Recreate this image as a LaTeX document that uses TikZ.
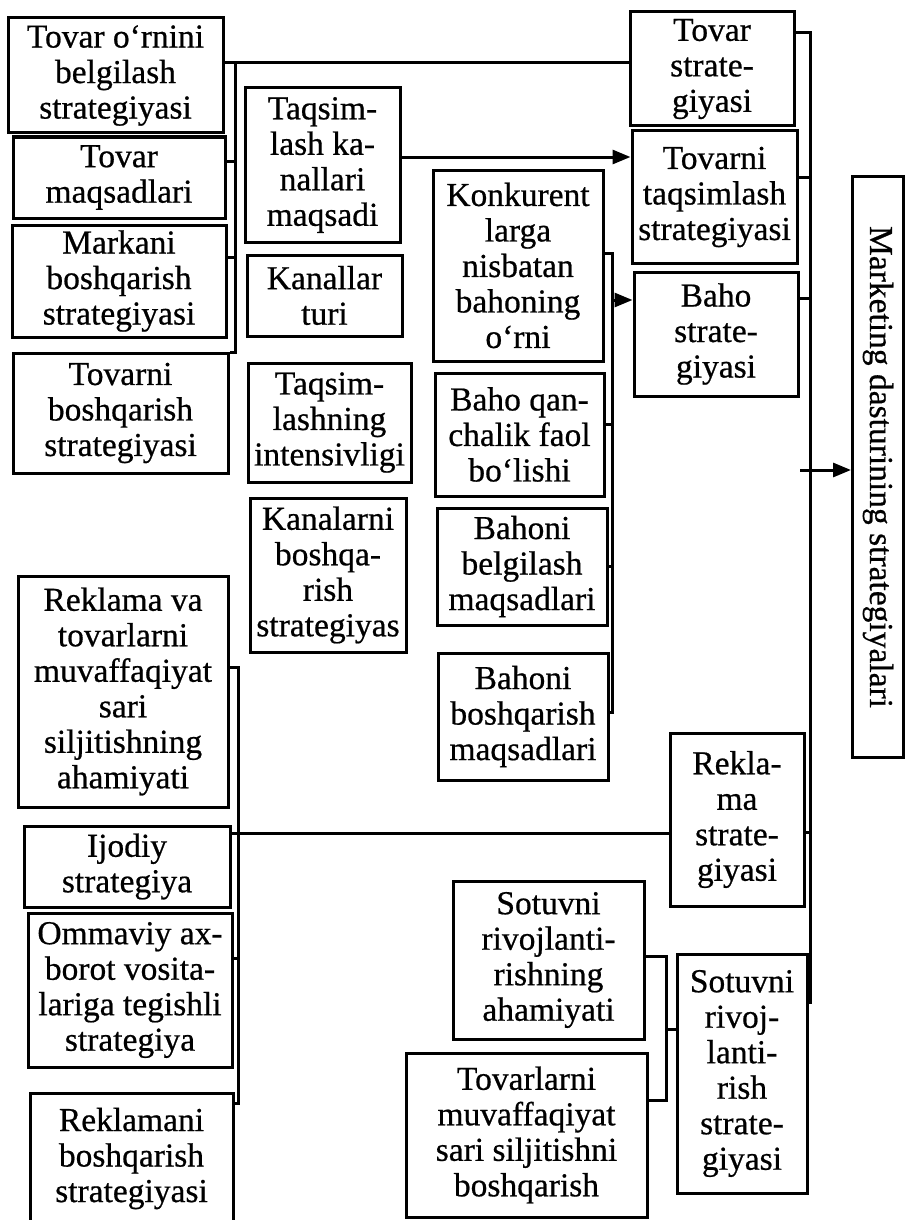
\documentclass[tikz,border=0pt]{standalone}
\usepackage{fontspec}
\setmainfont{Liberation Serif}[FakeBold=0.6]
\usetikzlibrary{arrows.meta}

% rectangle node given by its left, top, right and bottom edges
\newcommand\boxat[6]{%
  \node[box, minimum width={(#4-#2)*1pt}, minimum height={(#5-#3)*1pt}]
    (#1) at ({(#2+#4)/2},{(#3+#5)/2}) {#6};}

\begin{document}
\begin{tikzpicture}[x=1pt, y=-1pt,
  box/.style={draw, line width=3pt, inner sep=0pt, align=center,
              font=\fontsize{33.5}{35.5}\selectfont},
  conn/.style={line width=3pt},
  arr/.style={conn, -{Triangle[length=18pt, width=14pt]}}]
\useasboundingbox (0,0) rectangle (910,1220);
\clip (0,0) rectangle (910,1220);

% product group
\boxat{b1}{8}{18}{223}{133}{Tovar o‘rnini\\belgilash\\strategiyasi}
\boxat{b2}{13}{137}{225}{218}{Tovar\\maqsadlari}
\boxat{b3}{12}{225}{226}{337}{Markani\\boshqarish\\strategiyasi}
\boxat{b4}{13}{353}{228}{473}{Tovarni\\boshqarish\\strategiyasi}

% distribution group
\boxat{c1}{245}{88}{400}{242}{Taqsim-\\lash ka-\\nallari\\maqsadi}
\boxat{c2}{247}{255}{402}{336}{Kanallar\\turi}
\boxat{c3}{248}{363}{411}{482}{Taqsim-\\lashning\\intensivligi}
\boxat{c4}{250}{498}{406}{652}{Kanalarni\\boshqa-\\rish\\strategiyas}

% price group
\boxat{d1}{433}{170}{603}{361}{Konkurent\\larga\\nisbatan\\bahoning\\o‘rni}
\boxat{d2}{435}{373}{604}{496}{Baho qan-\\chalik faol\\bo‘lishi}
\boxat{d3}{437}{508}{607}{625}{Bahoni\\belgilash\\maqsadlari}
\boxat{d4}{438}{653}{608}{780}{Bahoni\\boshqarish\\maqsadlari}

% strategies column
\boxat{r1}{630}{12}{794}{126}{Tovar\\strate-\\giyasi}
\boxat{r2}{632}{131}{797}{263}{Tovarni\\taqsimlash\\strategiyasi}
\boxat{r3}{634}{272}{798}{396}{Baho\\strate-\\giyasi}
\boxat{r4}{670}{733}{804}{906}{Rekla-\\ma\\strate-\\giyasi}
\boxat{r5}{677}{954}{807}{1193}{Sotuvni\\rivoj-\\lanti-\\rish\\strate-\\giyasi}

% sales promotion group
\boxat{s1}{453}{881}{644}{1039}{Sotuvni\\rivojlanti-\\rishning\\ahamiyati}
\boxat{s2}{406}{1053}{647}{1217}{Tovarlarni\\muvaffaqiyat\\sari siljitishni\\boshqarish}

% advertising group
\boxat{l1}{18}{576}{228}{807}{Reklama va\\tovarlarni\\muvaffaqiyat\\sari\\siljitishning\\ahamiyati}
\boxat{l2}{24}{826}{230}{907}{Ijodiy\\strategiya}
\boxat{l3}{28}{913}{232}{1067}{Ommaviy ax-\\borot vosita-\\lariga tegishli\\strategiya}
\boxat{l4}{30}{1093}{233}{1224}{Reklamani\\boshqarish\\strategiyasi}

% overall result
\node[box, rotate=-90, minimum width=581pt, minimum height=51pt] (M)
  at (878,467) {Marketing dasturining strategiyalari};

% product bracket
\draw[conn] (b1.east |- 0,63) -- (r1.west |- 0,63);
\draw[conn] (235,63) -- (235,352) -- (b4.east |- 0,352);
\draw[conn] (b2.east |- 0,161) -- (235,161);
\draw[conn] (b3.east |- 0,257) -- (235,257);

% distribution link
\draw[arr] (c1.east |- 0,157) -- (r2.west |- 0,157);

% price bracket
\draw[conn] (d1.east |- 0,253) -- (612,253) -- (612,712) -- (d4.east |- 0,712);
\draw[conn] (d2.east |- 0,424) -- (612,424);
\draw[conn] (d3.east |- 0,566) -- (612,566);
\draw[arr] (612,300) -- (r3.west |- 0,300);

% advertising bracket
\draw[conn] (l1.east |- 0,667) -- (238,667) -- (238,1103) -- (l4.east |- 0,1103);
\draw[conn] (l3.east |- 0,958) -- (238,958);
\draw[conn] (l2.east |- 0,833) -- (r4.west |- 0,833);

% sales promotion bracket
\draw[conn] (s1.east |- 0,956) -- (666,956) -- (666,1100) -- (s2.east |- 0,1100);
\draw[conn] (666,1029) -- (r5.west |- 0,1029);

% strategies bracket
\draw[conn] (r1.east |- 0,33) -- (810,33) -- (810,1002) -- (r5.east |- 0,1002);
\draw[conn] (r2.east |- 0,177) -- (810,177);
\draw[conn] (r3.east |- 0,298) -- (810,298);
\draw[conn] (r4.east |- 0,832) -- (810,832);
\draw[arr] (800,470) -- (M.south |- 0,470);
\end{tikzpicture}
\end{document}
